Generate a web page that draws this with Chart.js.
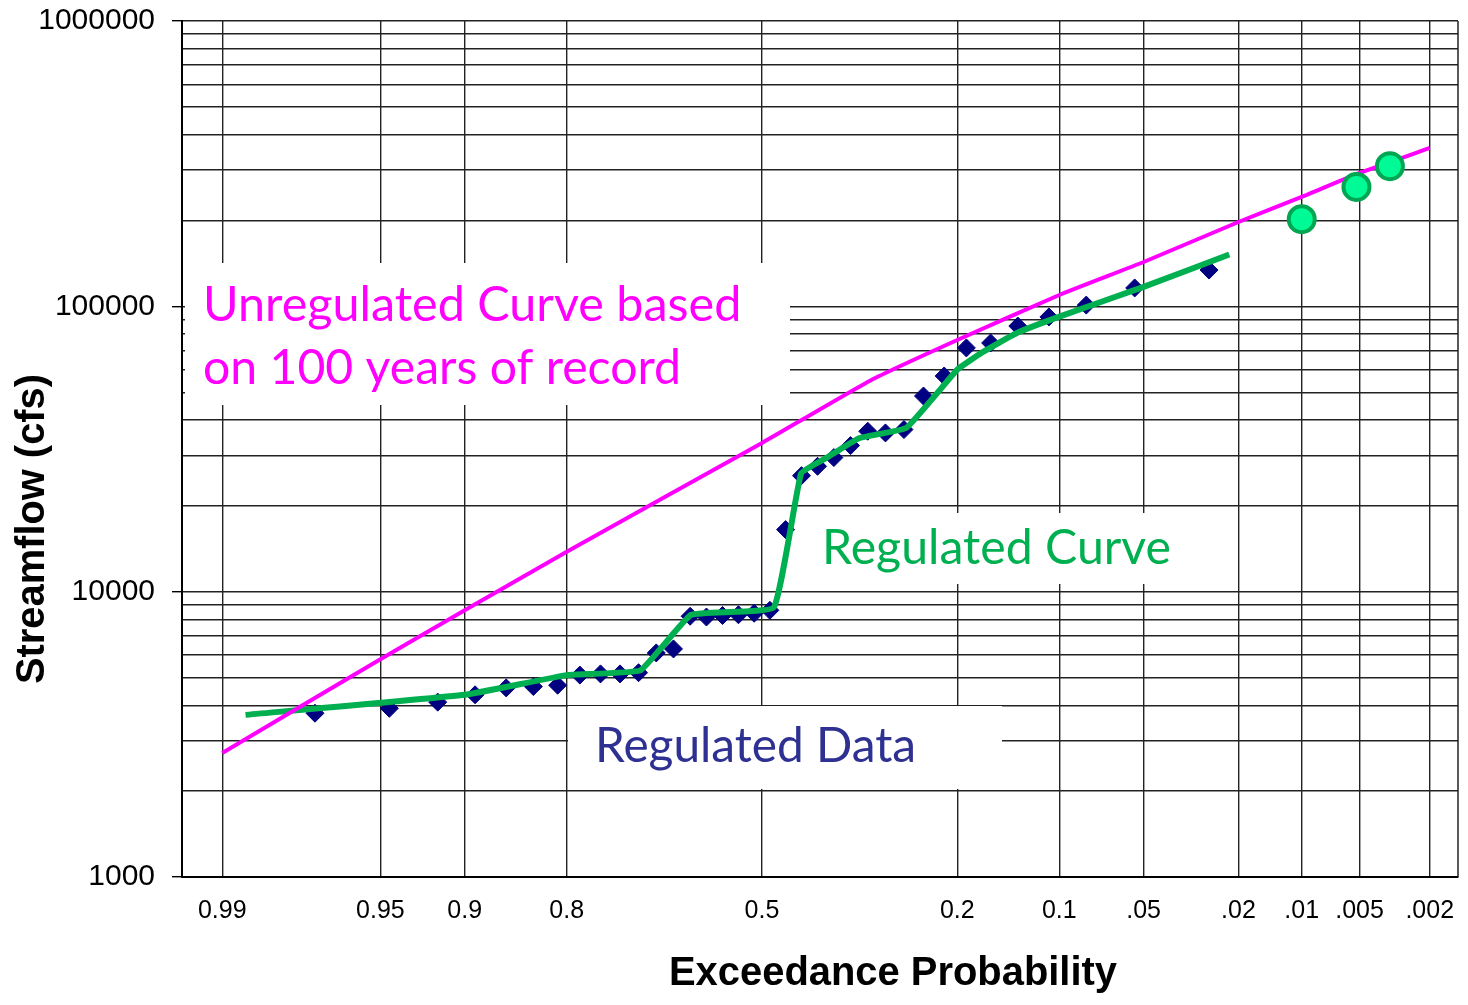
<!DOCTYPE html>
<html>
<head>
<meta charset="utf-8">
<title>Streamflow frequency</title>
<script src="https://cdn.jsdelivr.net/npm/chart.js"></script>
<style>
  html, body { margin: 0; padding: 0; background: #fff; }
  #wrap { width: 1468px; height: 1005px; }
</style>
</head>
<body>
<div id="wrap"><canvas id="freqChart" width="1468" height="1005"></canvas></div>
<script>
// x axis: exceedance probability on a normal-probability scale
const xTicks = [0.99, 0.95, 0.9, 0.8, 0.5, 0.2, 0.1, 0.05, 0.02, 0.01, 0.005, 0.002];
const xTickLabels = ['0.99', '0.95', '0.9', '0.8', '0.5', '0.2', '0.1', '.05', '.02', '.01', '.005', '.002'];

// y axis: log decades that carry a label
const yDecades = [1000, 10000, 100000, 1000000];
const yTickLabels = ['1000', '10000', '100000', '1000000'];

// regulated annual peaks, plotted at m/(n+1)
const dataProb = [0.973, 0.9459, 0.9189, 0.8919, 0.8649, 0.8378, 0.8108, 0.7838, 0.7568, 0.7297,
  0.7027, 0.6757, 0.6486, 0.6216, 0.5946, 0.5676, 0.5405, 0.5135, 0.4865, 0.4595,
  0.4324, 0.4054, 0.3784, 0.3514, 0.3243, 0.2973, 0.2703, 0.2432, 0.2162, 0.1892,
  0.1622, 0.1351, 0.1081, 0.0811, 0.0541, 0.027];
const dataFlow = [3750, 3900, 4100, 4350, 4600, 4650, 4700, 5100, 5150, 5150,
  5200, 6100, 6300, 8200, 8150, 8250, 8300, 8400, 8600, 16500,
  25500, 27500, 29500, 32500, 36500, 36000, 37000, 48500, 57000, 71500,
  74400, 85300, 91800, 101000, 116000, 134000];

// regulated frequency curve
const regProb = [0.987, 0.9, 0.8, 0.7, 0.62, 0.48, 0.433, 0.39, 0.338, 0.267, 0.2, 0.171, 0.1365, 0.1, 0.05, 0.022];
const regFlow = [3700, 4350, 5100, 5300, 8300, 8800, 26000, 29500, 34500, 37500, 60000, 69000, 80500, 92000, 117000, 152000];

// unregulated curve from the 100-year record
const unregProb = [0.99, 0.95, 0.9, 0.8, 0.5, 0.32, 0.2, 0.1, 0.05, 0.02, 0.01, 0.005, 0.002];
const unregFlow = [2720, 5800, 8600, 13800, 33200, 55000, 76200, 109600, 143000, 197500, 241700, 293400, 358900];

// rare-event estimates
const extremeProb = [0.01, 0.0052, 0.0034];
const extremeFlow = [202000, 262000, 310000];

// grid lines at 1..9 times each decade
const yGrid = [];
yDecades.slice(0, -1).forEach(d => { for (let k = 1; k < 10; k++) yGrid.push(d * k); });
yGrid.push(1000000);

// inverse standard normal (Acklam)
function normInv(p) {
  const a = [-3.969683028665376e+01, 2.209460984245205e+02, -2.759285104469687e+02, 1.383577518672690e+02, -3.066479806614716e+01, 2.506628277459239e+00];
  const b = [-5.447609879822406e+01, 1.615858368580409e+02, -1.556989798598866e+02, 6.680131188771972e+01, -1.328068155288572e+01];
  const c = [-7.784894002430293e-03, -3.223964580411365e-01, -2.400758277161838e+00, -2.549732539343734e+00, 4.374664141464968e+00, 2.938163982698783e+00];
  const d = [7.784695709041462e-03, 3.224671290700398e-01, 2.445134137142996e+00, 3.754408661907416e+00];
  const lo = 0.02425;
  let q, r;
  if (p < lo) {
    q = Math.sqrt(-2 * Math.log(p));
    return (((((c[0] * q + c[1]) * q + c[2]) * q + c[3]) * q + c[4]) * q + c[5]) / ((((d[0] * q + d[1]) * q + d[2]) * q + d[3]) * q + 1);
  }
  if (p > 1 - lo) {
    q = Math.sqrt(-2 * Math.log(1 - p));
    return -(((((c[0] * q + c[1]) * q + c[2]) * q + c[3]) * q + c[4]) * q + c[5]) / ((((d[0] * q + d[1]) * q + d[2]) * q + d[3]) * q + 1);
  }
  q = p - 0.5;
  r = q * q;
  return (((((a[0] * r + a[1]) * r + a[2]) * r + a[3]) * r + a[4]) * r + a[5]) * q / (((((b[0] * r + b[1]) * r + b[2]) * r + b[3]) * r + b[4]) * r + 1);
}

// exceedance probability -> standard normal variate, and back
const probToZ = p => -normInv(p);
function zToProb(z) {
  const t = 1 / (1 + 0.3275911 * Math.abs(z) / Math.SQRT2);
  const y = t * (0.254829592 + t * (-0.284496736 + t * (1.421413741 + t * (-1.453152027 + t * 1.061405429))));
  const tail = 0.5 * y * Math.exp(-z * z / 2);
  return z >= 0 ? tail : 1 - tail;
}

class ProbabilityScale extends Chart.Scale {
  static id = 'probability';
  static defaults = {};

  determineDataLimits() {
    this.min = this.options.min;
    this.max = this.options.max;
  }
  buildTicks() {
    return this.options.probTicks.map(v => ({ value: v }));
  }
  getLabelForValue(v) {
    return String(v);
  }
  configure() {
    super.configure();
    this._zStart = probToZ(this.min);
    this._zRange = probToZ(this.max) - this._zStart;
  }
  getPixelForValue(v) {
    return this.getPixelForDecimal((probToZ(v) - this._zStart) / this._zRange);
  }
  getValueForPixel(px) {
    return zToProb(this._zStart + this.getDecimalForPixel(px) * this._zRange);
  }
}
Chart.register(ProbabilityScale);

const pairs = (xs, ys) => xs.map((x, i) => ({ x: x, y: ys[i] }));

// text boxes laid over the grid (canvas pixels)
const notes = [
  { box: [185, 263, 790, 405], x: 203, y: 321, gap: 63, lines: ['Unregulated Curve based', 'on 100 years of record'], widths: [540, 478], color: '#FF00FF' },
  { box: [806, 513, 1186, 584], x: 822, y: 564, gap: 0, lines: ['Regulated Curve'], widths: [349], color: '#00B050' },
  { box: [568, 706, 1002, 789], x: 595, y: 762, gap: 0, lines: ['Regulated Data'], widths: [321], color: '#2E3192' }
];

const overlay = {
  id: 'overlay',
  beforeDatasetsDraw(chart) {
    const ctx = chart.ctx;
    const area = chart.chartArea;
    ctx.save();
    ctx.strokeStyle = gridColor;
    ctx.lineWidth = 1.5;
    ctx.beginPath();
    ctx.moveTo(area.right, area.top);
    ctx.lineTo(area.right, area.bottom);
    ctx.stroke();
    notes.forEach(n => {
      ctx.fillStyle = '#fff';
      ctx.fillRect(n.box[0], n.box[1], n.box[2] - n.box[0], n.box[3] - n.box[1]);
      ctx.fillStyle = n.color;
      ctx.font = '48.5px Lato';
      ctx.textBaseline = 'alphabetic';
      ctx.textAlign = 'left';
      n.lines.forEach((t, i) => ctx.fillText(t, n.x, n.y + i * n.gap, n.widths[i]));
    });
    ctx.restore();
  },
  afterDraw(chart) {
    const ctx = chart.ctx;
    ctx.save();
    ctx.fillStyle = '#000';
    ctx.font = 'bold 40px "Liberation Sans"';
    ctx.textAlign = 'center';
    ctx.textBaseline = 'alphabetic';
    ctx.fillText('Exceedance Probability', 893, 985, 448);
    ctx.translate(44, 529);
    ctx.rotate(-Math.PI / 2);
    ctx.fillText('Streamflow (cfs)', 0, 0, 310);
    ctx.restore();
  }
};

const gridColor = '#222';

new Chart(document.getElementById('freqChart'), {
  type: 'line',
  data: {
    datasets: [
      {
        label: 'Extreme events',
        data: pairs(extremeProb, extremeFlow),
        showLine: false,
        pointStyle: 'circle',
        pointRadius: 13,
        pointBorderWidth: 4,
        pointBackgroundColor: '#00FA96',
        pointBorderColor: '#00A651'
      },
      {
        label: 'Unregulated Curve',
        data: pairs(unregProb, unregFlow),
        borderColor: '#FF00FF',
        borderWidth: 4,
        pointRadius: 0,
        tension: 0.15,
        borderJoinStyle: 'round'
      },
      {
        label: 'Regulated Curve',
        data: pairs(regProb, regFlow),
        borderColor: '#00B050',
        borderWidth: 6,
        pointRadius: 0,
        tension: 0.1,
        borderJoinStyle: 'round',
        borderCapStyle: 'butt'
      },
      {
        label: 'Regulated Data',
        data: pairs(dataProb, dataFlow),
        showLine: false,
        pointStyle: 'rectRot',
        pointRadius: 9,
        pointBorderWidth: 1,
        pointBackgroundColor: '#000080',
        pointBorderColor: '#000080'
      }
    ]
  },
  options: {
    responsive: false,
    animation: false,
    events: [],
    layout: { autoPadding: false, padding: { top: 21, right: 10, left: 0, bottom: 0 } },
    plugins: {
      legend: { display: false },
      tooltip: { enabled: false }
    },
    scales: {
      x: {
        type: 'probability',
        min: 0.99379,
        max: 0.00135,
        probTicks: xTicks,
        grid: { color: gridColor, lineWidth: 1.4, drawTicks: false },
        border: { color: '#000', width: 2 },
        ticks: {
          autoSkip: false,
          maxRotation: 0,
          padding: 19,
          color: '#000',
          font: { family: '"Liberation Sans"', size: 25 },
          callback: (v, i) => xTickLabels[i]
        },
        afterFit: s => {
          s.height = 128;
          s.paddingLeft = 0;
          s.paddingRight = 0;
        }
      },
      y: {
        type: 'logarithmic',
        min: 1000,
        max: 1000000,
        afterBuildTicks: s => {
          s.ticks = yGrid.map(v => ({ value: v, major: false }));
        },
        grid: {
          color: gridColor,
          lineWidth: 1.4,
          tickLength: 10,
          tickColor: c => (c.tick && yDecades.includes(c.tick.value)) ? '#000' : 'rgba(0,0,0,0)'
        },
        border: { color: '#000', width: 2 },
        ticks: {
          autoSkip: false,
          padding: 17,
          color: '#000',
          font: { family: '"Liberation Sans"', size: 30 },
          callback: v => {
            const i = yDecades.indexOf(v);
            return i >= 0 ? yTickLabels[i] : '';
          }
        },
        afterFit: s => {
          s.width = 182;
          s.paddingTop = 0;
          s.paddingBottom = 0;
        }
      }
    }
  },
  plugins: [overlay]
});
</script>
</body>
</html>
